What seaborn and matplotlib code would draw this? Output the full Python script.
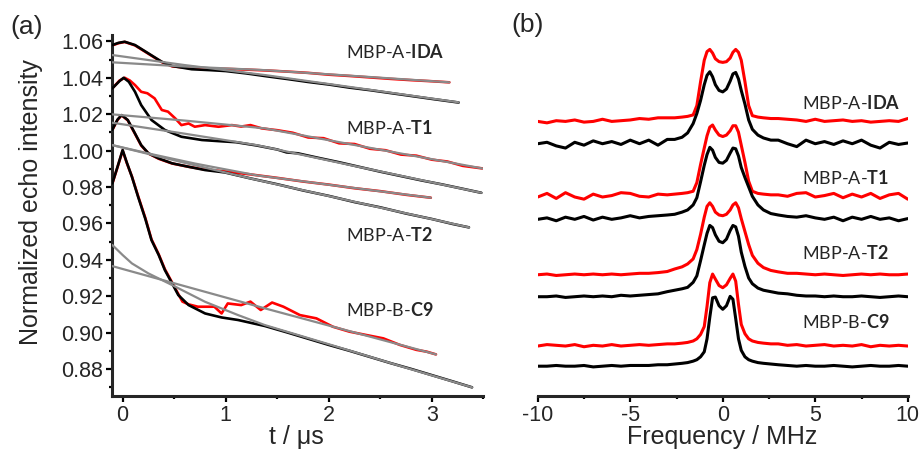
import matplotlib
matplotlib.use("Agg")
import matplotlib.pyplot as plt
from matplotlib.ticker import MultipleLocator
import numpy as np
import pandas as pd
import seaborn as sns

# ---------------- panel (a): time traces ----------------
t_ida_black = [-0.1, -0.04, 0.02, 0.12, 0.25, 0.38, 0.48, 0.67, 0.85, 1.0, 1.2, 1.4, 1.6, 1.8, 2.0, 2.2, 2.4, 2.6, 2.8, 3.0, 3.26]
v_ida_black = [1.0580, 1.0592, 1.0598, 1.0580, 1.0534, 1.0488, 1.0465, 1.0447, 1.0442, 1.0437, 1.0424, 1.0408, 1.0393, 1.0377, 1.0363, 1.0346, 1.0332, 1.0316, 1.0300, 1.0284, 1.0264]
t_ida_red = [-0.1, -0.04, 0.02, 0.12, 0.25, 0.38, 0.48, 0.67, 0.85, 1.0, 1.2, 1.4, 1.6, 1.8, 2.0, 2.2, 2.4, 2.6, 2.8, 3.0, 3.17]
v_ida_red = [1.0578, 1.0590, 1.0597, 1.0578, 1.0532, 1.0486, 1.0463, 1.0452, 1.0451, 1.0449, 1.0445, 1.0440, 1.0434, 1.0427, 1.0417, 1.0410, 1.0402, 1.0394, 1.0387, 1.0381, 1.0375]

t_t1_black = [-0.1, -0.03, 0.01, 0.06, 0.12, 0.18, 0.28, 0.41, 0.57, 0.77, 0.93, 1.1, 1.3, 1.5, 1.59, 1.7, 1.9, 2.1, 2.3, 2.5, 2.7, 2.9, 3.1, 3.3, 3.48]
v_t1_black = [1.0342, 1.0382, 1.0400, 1.0378, 1.0323, 1.0250, 1.0168, 1.0113, 1.0076, 1.0058, 1.0052, 1.0046, 1.0028, 1.0006, 0.9990, 0.9985, 0.9960, 0.9936, 0.9910, 0.9884, 0.9860, 0.9836, 0.9814, 0.9790, 0.9768]
t_t1_red = [-0.1, -0.03, 0.02, 0.07, 0.12, 0.18, 0.24, 0.31, 0.38, 0.44, 0.51, 0.57, 0.64, 0.7, 0.8, 0.93, 1.06, 1.15, 1.24, 1.35, 1.5, 1.65, 1.8, 1.95, 2.1, 2.25, 2.4, 2.55, 2.7, 2.85, 3.0, 3.15, 3.3, 3.49]
v_t1_red = [1.0342, 1.0385, 1.0400, 1.0385, 1.0360, 1.0323, 1.0315, 1.0287, 1.0223, 1.0214, 1.0177, 1.0140, 1.0149, 1.0131, 1.0140, 1.0131, 1.0140, 1.0132, 1.0140, 1.0122, 1.0112, 1.0098, 1.0072, 1.0068, 1.0040, 1.0036, 1.0010, 1.0002, 0.9978, 0.9972, 0.9950, 0.9940, 0.9916, 0.9902]

t_t2_black = [-0.1, -0.05, -0.01, 0.05, 0.12, 0.18, 0.25, 0.35, 0.48, 0.64, 0.8, 0.99, 1.24, 1.5, 1.75, 2.0, 2.25, 2.5, 2.75, 3.0, 3.2, 3.36]
v_t2_black = [1.0115, 1.0170, 1.0195, 1.0168, 1.0094, 1.0030, 0.9985, 0.9957, 0.9930, 0.9911, 0.9893, 0.9880, 0.9847, 0.9815, 0.9781, 0.9751, 0.9717, 0.9688, 0.9654, 0.9624, 0.9597, 0.9578]
t_t2_red = [-0.1, -0.05, -0.01, 0.05, 0.12, 0.18, 0.25, 0.35, 0.48, 0.64, 0.8, 0.99, 1.24, 1.5, 1.75, 2.0, 2.25, 2.5, 2.75, 2.99]
v_t2_red = [1.0113, 1.0168, 1.0194, 1.0166, 1.0092, 1.0028, 0.9984, 0.9955, 0.9929, 0.9911, 0.9896, 0.9886, 0.9869, 0.9850, 0.9830, 0.9813, 0.9793, 0.9777, 0.9757, 0.9741]

t_c9_black = [-0.1, -0.05, 0.0, 0.04, 0.09, 0.15, 0.22, 0.28, 0.35, 0.41, 0.48, 0.54, 0.64, 0.8, 0.96, 1.12, 1.38, 1.6, 1.8, 2.0, 2.2, 2.4, 2.6, 2.8, 3.0, 3.2, 3.39]
v_c9_black = [0.9820, 0.9910, 1.0003, 0.9935, 0.9856, 0.9746, 0.9625, 0.9508, 0.9426, 0.9343, 0.9270, 0.9206, 0.9151, 0.9105, 0.9083, 0.9069, 0.9036, 0.9000, 0.8966, 0.8932, 0.8900, 0.8866, 0.8832, 0.8800, 0.8766, 0.8732, 0.8699]
t_c9_red = [-0.1, -0.05, 0.0, 0.04, 0.09, 0.15, 0.22, 0.28, 0.35, 0.41, 0.48, 0.54, 0.58, 0.64, 0.73, 0.89, 0.96, 1.02, 1.15, 1.24, 1.34, 1.45, 1.56, 1.72, 1.88, 2.04, 2.2, 2.36, 2.53, 2.69, 2.85, 2.95, 3.04]
v_c9_red = [0.9818, 0.9908, 1.0000, 0.9932, 0.9858, 0.9750, 0.9630, 0.9512, 0.9430, 0.9348, 0.9275, 0.9212, 0.9170, 0.9155, 0.9142, 0.9142, 0.9105, 0.9160, 0.9151, 0.9170, 0.9124, 0.9165, 0.9142, 0.9096, 0.9078, 0.9032, 0.9005, 0.8987, 0.8968, 0.8932, 0.8905, 0.8895, 0.8880]

# background fits (grey)
t_fit_ida_black = [-0.1, 0.6, 1.38, 2.3, 3.26]
v_fit_ida_black = [1.0525, 1.0470, 1.0415, 1.0342, 1.0265]
t_fit_ida_red = [-0.1, 0.6, 1.38, 2.3, 3.17]
v_fit_ida_red = [1.0485, 1.0462, 1.0442, 1.0408, 1.0375]
t_fit_t1_black = [-0.1, 0.6, 1.3, 2.21, 3.48]
v_fit_t1_black = [1.0153, 1.0093, 1.0030, 0.9920, 0.9768]
t_fit_t1_red = [-0.1, 0.6, 1.38, 2.4, 3.49]
v_fit_t1_red = [1.0199, 1.0165, 1.0122, 1.0015, 0.9902]
t_fit_t2_black = [-0.1, 0.6, 1.24, 2.3, 3.36]
v_fit_t2_black = [1.0030, 0.9933, 0.9847, 0.9712, 0.9578]
t_fit_t2_red = [-0.1, 0.3, 0.7, 1.3, 2.1, 2.99]
v_fit_t2_red = [1.0030, 0.9978, 0.9929, 0.9864, 0.9805, 0.9741]
t_fit_c9_black = [-0.1, 0.0, 0.09, 0.25, 0.48, 0.8, 1.12, 1.38, 2.04, 2.7, 3.39]
v_fit_c9_black = [0.9481, 0.9426, 0.9380, 0.9325, 0.9261, 0.9169, 0.9096, 0.9041, 0.8929, 0.8815, 0.8699]
t_fit_c9_red = [-0.1, 1.38, 3.04]
v_fit_c9_red = [0.9365, 0.9133, 0.8880]

labels_a = ["MBP-A-$\\mathbf{IDA}$", "MBP-A-$\\mathbf{T1}$", "MBP-A-$\\mathbf{T2}$", "MBP-B-$\\mathbf{C9}$"]

# ---------------- panel (b): spectra ----------------
freq = [-10, -9.5, -9, -8.5, -8, -7.5, -7, -6.5, -6, -5.5, -5, -4.5, -4, -3.5, -3,
        -2.6, -2.2, -1.9, -1.6, -1.4, -1.2, -1.0, -0.85, -0.7, -0.55, -0.4, -0.2, 0, 0.2, 0.4, 0.55, 0.7, 0.85, 1.0, 1.2, 1.4, 1.6, 1.9, 2.2, 2.6,
        3, 3.5, 4, 4.5, 5, 5.5, 6, 6.5, 7, 7.5, 8, 8.5, 9, 9.5, 10]

spec_ida_red = [0.00, -0.02, 0.01, 0.00, 0.02, -0.01, 0.00, 0.03, 0.00, 0.01, 0.02, 0.04, 0.03, 0.05, 0.05,
                0.05, 0.06, 0.07, 0.09, 0.22, 0.55, 0.85, 0.97, 1.00, 0.95, 0.87, 0.83, 0.82, 0.83, 0.88, 0.96, 1.00, 0.96, 0.85, 0.55, 0.22, 0.08, 0.06, 0.05, 0.04,
                0.04, 0.03, 0.02, 0.00, 0.03, 0.00, 0.01, 0.02, 0.00, 0.01, -0.01, 0.00, 0.01, 0.00, 0.04]
spec_ida_black = [0.00, 0.02, -0.03, -0.06, 0.02, -0.02, 0.04, 0.00, 0.03, -0.01, 0.05, 0.00, 0.05, -0.02, 0.06,
                  0.06, 0.09, 0.15, 0.28, 0.42, 0.60, 0.82, 0.95, 1.00, 0.93, 0.82, 0.74, 0.72, 0.76, 0.87, 0.97, 0.99, 0.90, 0.74, 0.55, 0.33, 0.20, 0.12, 0.08, 0.05,
                  0.05, 0.00, -0.04, 0.05, 0.00, 0.03, -0.01, 0.04, 0.00, 0.05, -0.02, -0.06, 0.02, -0.01, 0.01]
spec_t1_red = [0.00, 0.05, -0.02, 0.06, 0.00, -0.03, 0.04, 0.00, 0.02, 0.06, 0.05, 0.01, 0.00, 0.04, 0.03,
               0.04, 0.05, 0.06, 0.08, 0.20, 0.45, 0.68, 0.85, 0.97, 1.00, 0.93, 0.86, 0.84, 0.86, 0.92, 0.99, 0.99, 0.90, 0.72, 0.48, 0.22, 0.08, 0.05, 0.04, 0.03,
               0.03, 0.01, 0.05, 0.06, 0.00, 0.02, 0.05, -0.01, 0.04, 0.00, 0.05, -0.02, 0.03, 0.05, -0.03]
spec_t1_black = [0.00, 0.02, -0.02, 0.03, 0.00, 0.04, -0.01, 0.03, 0.00, 0.02, 0.05, 0.02, 0.04, 0.05, 0.06,
                 0.07, 0.10, 0.13, 0.20, 0.30, 0.52, 0.75, 0.90, 1.00, 0.96, 0.86, 0.79, 0.78, 0.82, 0.92, 0.99, 0.98, 0.88, 0.72, 0.58, 0.45, 0.32, 0.20, 0.13, 0.08,
                 0.06, 0.04, 0.03, 0.05, 0.02, 0.00, 0.03, -0.02, 0.03, 0.00, 0.04, 0.00, 0.02, -0.02, 0.01]
spec_t2_red = [0.00, 0.01, -0.01, 0.00, 0.01, 0.00, 0.01, 0.00, 0.01, 0.00, 0.01, 0.02, 0.02, 0.03, 0.045,
               0.08, 0.11, 0.15, 0.22, 0.35, 0.56, 0.80, 0.95, 1.00, 0.95, 0.87, 0.83, 0.82, 0.84, 0.90, 0.97, 1.00, 0.93, 0.78, 0.60, 0.42, 0.27, 0.16, 0.10, 0.06,
               0.04, 0.02, 0.02, 0.01, 0.00, 0.01, 0.00, -0.01, 0.00, 0.01, 0.00, 0.01, 0.00, 0.00, 0.01]
spec_t2_black = [0.00, 0.00, 0.01, -0.01, 0.00, 0.01, 0.00, 0.01, 0.00, 0.02, 0.01, 0.02, 0.03, 0.04, 0.07,
                 0.09, 0.11, 0.13, 0.20, 0.29, 0.50, 0.72, 0.88, 0.99, 0.96, 0.86, 0.77, 0.75, 0.80, 0.92, 0.99, 0.97, 0.84, 0.62, 0.42, 0.26, 0.18, 0.12, 0.09, 0.07,
                 0.05, 0.04, 0.02, 0.01, 0.01, 0.00, 0.01, 0.00, 0.00, 0.01, 0.00, -0.01, 0.00, 0.01, 0.00]
spec_c9_red = [0.00, 0.02, 0.01, 0.00, 0.02, -0.01, 0.01, 0.00, 0.02, 0.00, 0.01, 0.02, 0.01, 0.02, 0.03,
               0.03, 0.04, 0.05, 0.07, 0.10, 0.16, 0.27, 0.55, 0.88, 1.00, 0.93, 0.84, 0.81, 0.85, 0.94, 1.00, 0.90, 0.58, 0.30, 0.17, 0.10, 0.07, 0.05, 0.04, 0.03,
               0.03, 0.01, 0.02, 0.00, 0.01, 0.02, 0.00, 0.01, 0.00, 0.02, -0.01, 0.01, 0.00, 0.01, 0.00]
spec_c9_black = [0.00, 0.00, 0.01, 0.00, 0.00, 0.01, -0.01, 0.00, 0.01, 0.00, 0.01, 0.01, 0.01, 0.02, 0.02,
                 0.03, 0.04, 0.05, 0.07, 0.09, 0.13, 0.20, 0.38, 0.68, 0.95, 0.96, 0.84, 0.79, 0.84, 0.97, 0.93, 0.66, 0.38, 0.22, 0.13, 0.09, 0.07, 0.05, 0.04, 0.03,
                 0.02, 0.01, 0.00, 0.01, 0.00, 0.00, 0.01, 0.00, -0.01, 0.00, 0.01, 0.00, 0.00, 0.01, 0.00]
spec_offsets = [3.81, 3.50, 2.76, 2.45, 1.68, 1.375, 0.69, 0.41]
labels_b = ["MBP-A-$\\mathbf{IDA}$", "MBP-A-$\\mathbf{T1}$", "MBP-A-$\\mathbf{T2}$", "MBP-B-$\\mathbf{C9}$"]

# ---------------- style ----------------
sns.set_style("ticks")
plt.rcParams["font.family"] = ["Liberation Sans", "DejaVu Sans"]
plt.rcParams["mathtext.fontset"] = "custom"
plt.rcParams["mathtext.rm"] = "Lato"
plt.rcParams["mathtext.bf"] = "Lato:bold"

RED = "#ff0000"
BLACK = "#000000"
GREY = "#8a8a8a"

fig = plt.figure(figsize=(9.23, 4.49), dpi=100)
axa = fig.add_axes([0.1217, 0.1187, 0.4020, 0.8033])
axb = fig.add_axes([0.5826, 0.1187, 0.4009, 0.8033])

def line(ax, x, y, color, lw, z):
    sns.lineplot(x=x, y=y, ax=ax, color=color, linewidth=lw, estimator=None,
                 sort=False, zorder=z, legend=False)

data_pairs = [(t_ida_red, v_ida_red, t_ida_black, v_ida_black),
              (t_t1_red, v_t1_red, t_t1_black, v_t1_black),
              (t_t2_red, v_t2_red, t_t2_black, v_t2_black),
              (t_c9_red, v_c9_red, t_c9_black, v_c9_black)]
for tr, vr, tb, vb in data_pairs:
    line(axa, tr, vr, RED, 1.9, 2)
    line(axa, tb, vb, BLACK, 1.9, 3)
fits = [(t_fit_ida_black, v_fit_ida_black), (t_fit_ida_red, v_fit_ida_red),
        (t_fit_t1_black, v_fit_t1_black), (t_fit_t1_red, v_fit_t1_red),
        (t_fit_t2_black, v_fit_t2_black), (t_fit_t2_red, v_fit_t2_red),
        (t_fit_c9_black, v_fit_c9_black), (t_fit_c9_red, v_fit_c9_red)]
for tf, vf in fits:
    line(axa, tf, vf, GREY, 1.6, 4)

axa.set_xlim(-0.1, 3.5)
axa.set_ylim(0.8653, 1.0635)
axa.yaxis.set_minor_locator(MultipleLocator(0.01))
axa.xaxis.set_minor_locator(MultipleLocator(0.5))
axa.set_yticks([0.88, 0.90, 0.92, 0.94, 0.96, 0.98, 1.00, 1.02, 1.04, 1.06])
axa.set_yticklabels(["0.88", "0.90", "0.92", "0.94", "0.96", "0.98", "1.00", "1.02", "1.04", "1.06"])
axa.set_xticks([0, 1, 2, 3])
axa.set_xticklabels(["0", "1", "2", "3"])
axa.set_xlabel("t / \u03bcs", fontsize=18)
axa.set_ylabel("Normalized echo intensity", fontsize=18)
axa.yaxis.set_label_coords(-0.186, 0.536)
axa.xaxis.set_label_coords(0.497, -0.081)
sns.despine(ax=axa, top=True, right=True)

label_pos_a = [(2.17, 1.0543), (2.17, 1.0122), (2.17, 0.9536), (2.17, 0.9124)]
for (x, y), s in zip(label_pos_a, labels_a):
    axa.text(x, y, s, fontsize=13, family="Lato", ha="left", va="center")

spectra = [(spec_ida_red, RED), (spec_ida_black, BLACK), (spec_t1_red, RED), (spec_t1_black, BLACK),
           (spec_t2_red, RED), (spec_t2_black, BLACK), (spec_c9_red, RED), (spec_c9_black, BLACK)]
for (s, c), off in zip(spectra, spec_offsets):
    y = [v + off for v in s]
    line(axb, freq, y, c, 2.2, 3)

axb.set_xlim(-10, 10)
axb.set_ylim(0, 5.01)
axb.xaxis.set_minor_locator(MultipleLocator(2.5))
axb.set_xticks([-10, -5, 0, 5, 10])
axb.set_xticklabels(["-10", "-5", "0", "5", "10"])
axb.set_yticks([])
axb.set_xlabel("Frequency / MHz", fontsize=18)
axb.set_ylabel("")
axb.xaxis.set_label_coords(0.4995, -0.081)
sns.despine(ax=axb, top=True, right=True, left=True)

label_pos_b = [(4.27, 4.06), (4.27, 3.02), (4.27, 1.98), (4.27, 1.03)]
for (x, y), s in zip(label_pos_b, labels_b):
    axb.text(x, y, s, fontsize=13, family="Lato", ha="left", va="center")

for ax in (axa, axb):
    for sp in ax.spines.values():
        sp.set_linewidth(2.2)
    ax.tick_params(which="major", direction="out", length=4.5, width=1.6, labelsize=15.5, pad=2, color="black")
    ax.tick_params(which="minor", direction="out", length=2.5, width=1.6, color="black")
    ax.set_facecolor("white")

fig.text(0.0108, 0.94, "(a)", fontsize=19, ha="left", va="center")
fig.text(0.5544, 0.944, "(b)", fontsize=19, ha="left", va="center")

fig.savefig("out.png", dpi=100, facecolor="white")
